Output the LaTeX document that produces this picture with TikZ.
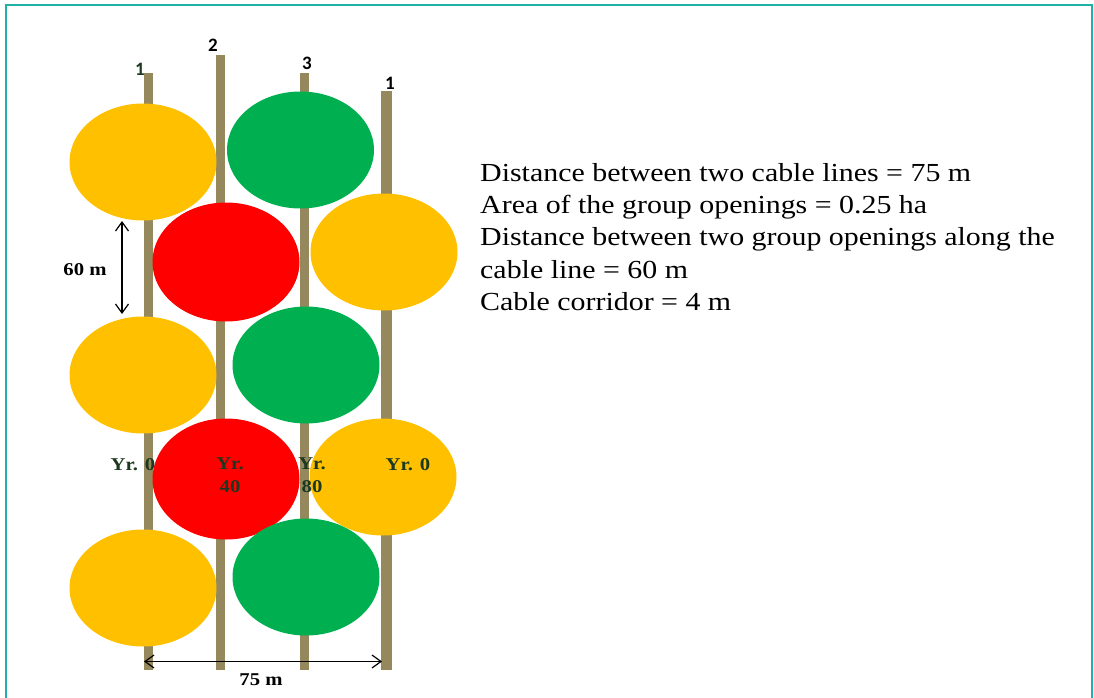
\documentclass[tikz,border=0pt]{standalone}
\usepackage{fontspec}
\setmainfont{Liberation Serif}
\newfontfamily\numfont{Carlito}
\newfontfamily\wideserif[FakeStretch=1.15]{Liberation Serif}
\usetikzlibrary{shapes.geometric,arrows.meta}
\definecolor{frameteal}{RGB}{32,176,166}
\definecolor{polecol}{RGB}{148,136,92}
\definecolor{yel}{RGB}{255,192,0}
\definecolor{redc}{RGB}{255,0,0}
\definecolor{grn}{RGB}{0,176,80}
\definecolor{dkgreen}{RGB}{28,56,30}
\tikzset{
  pole/.style={fill=polecol,draw=none,minimum width=9pt,inner sep=0pt,anchor=north},
  opening/.style={ellipse,draw=none,inner sep=0pt,minimum width=147pt,minimum height=117pt},
  numlab/.style={font=\numfont\bfseries\fontsize{19}{19}\selectfont,inner sep=0pt},
  yrlab/.style={font=\wideserif\bfseries\fontsize{18}{23}\selectfont,text=dkgreen,inner sep=0pt,align=center},
  dimlab/.style={font=\wideserif\bfseries\fontsize{18}{18}\selectfont,inner sep=0pt},
  dimarrow/.style={line width=1.2pt,{Straight Barb[length=9pt,width=13pt]}-{Straight Barb[length=9pt,width=13pt]}},
  info/.style={font=\wideserif\fontsize{26}{32}\selectfont,anchor=base west,inner sep=0pt}
}
\begin{document}
\begin{tikzpicture}[x=1pt,y=-1pt]
\useasboundingbox (0,0) rectangle (1094,698);
% frame
\draw[frameteal,line width=2pt] (5.5,700) -- (5.5,5.5) -- (1092,5.5) -- (1092,700);
% poles
\node[pole,minimum height=597pt] (p1) at (148,73) {};
\node[pole,minimum height=615pt] (p2) at (220.5,55) {};
\node[pole,minimum height=597pt] (p3) at (304,73) {};
\node[pole,minimum height=579pt,minimum width=11pt] (p4) at (386.5,91) {};
% pole numbers
\node[numlab,text=dkgreen] (n1) at (140,69) {1};
\node[numlab] (n2) at (213,45) {2};
\node[numlab] (n3) at (307,63) {3};
\node[numlab] (n4) at (390,83) {1};
% openings
\node[opening,fill=yel] (a1) at (143,162) {};
\node[opening,fill=yel] (a2) at (143,375) {};
\node[opening,fill=yel] (a3) at (143,588) {};
\node[opening,fill=redc,minimum height=119pt] (r1) at (226,262) {};
\node[opening,fill=redc,minimum height=121pt] (r2) at (226,479) {};
\node[opening,fill=grn] (g1) at (300.5,150) {};
\node[opening,fill=grn] (g2) at (306,365) {};
\node[opening,fill=grn] (g3) at (306,577) {};
\node[opening,fill=yel] (y1) at (384,252) {};
\node[opening,fill=yel] (y2) at (383,477) {};
% year labels
\node[yrlab] (t1) at (133,465) {Yr. 0};
\node[yrlab,anchor=north] (t2) at (230,458) {Yr.\\40};
\node[yrlab,anchor=north] (t3) at (312,458) {Yr.\\80};
\node[yrlab] (t4) at (408,465) {Yr. 0};
% 60 m dimension
\coordinate (d60a) at (122,221);
\coordinate (d60b) at (122,314);
\draw[dimarrow] (d60a) -- (d60b);
\node[dimlab] (l60) at (85,270) {60 m};
% 75 m dimension
\coordinate (d75a) at (p1.south |- 0,661.5);
\coordinate (d75b) at (382,661.5);
\draw[dimarrow] ([xshift=-4pt]d75a) -- (d75b);
\node[dimlab] (l75) at (261,680) {75 m};
% info text
\node[info] (i1) at (480,181) {Distance between two cable lines = 75 m};
\node[info] (i2) at (480,213) {Area of the group openings = 0.25 ha};
\node[info] (i3) at (480,245.5) {Distance between two group openings along the};
\node[info] (i4) at (480,278) {cable line = 60 m};
\node[info] (i5) at (480,310) {Cable corridor = 4 m};
\end{tikzpicture}
\end{document}
